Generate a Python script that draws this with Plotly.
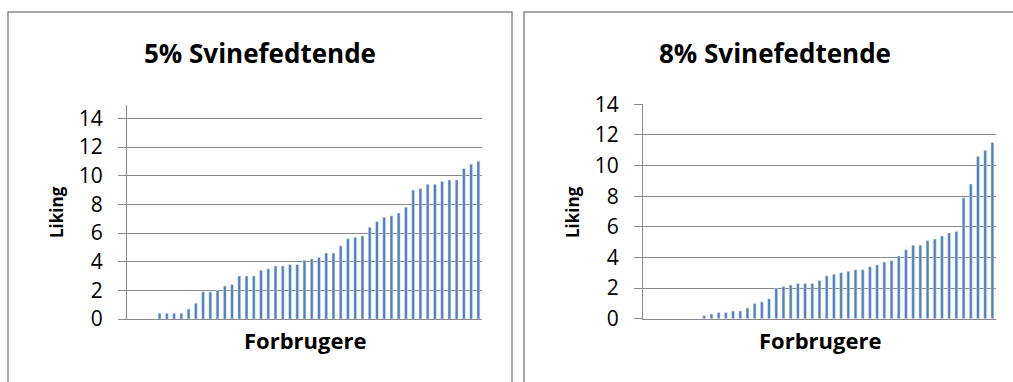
import plotly.graph_objects as go

# Liking scores per consumer, sorted ascending (49 consumers per panel)
consumers = list(range(1, 50))

liking_5pct = [0, 0, 0, 0,
               0.4, 0.4, 0.4, 0.4, 0.7, 1.1, 1.9, 1.9, 2.0, 2.3,
               2.4, 3.0, 3.0, 3.0, 3.4, 3.5, 3.7, 3.7, 3.8, 3.8,
               4.1, 4.2, 4.3, 4.6, 4.6, 5.1, 5.6, 5.7, 5.8, 6.4,
               6.8, 7.1, 7.2, 7.4, 7.8, 9.0, 9.1, 9.4, 9.4, 9.6,
               9.7, 9.7, 10.5, 10.8, 11.0]

liking_8pct = [0, 0, 0, 0, 0, 0, 0, 0,
               0.2, 0.3, 0.4, 0.4, 0.5, 0.5, 0.7, 1.0, 1.1, 1.3,
               2.0, 2.1, 2.2, 2.3, 2.3, 2.3, 2.5, 2.8, 2.9, 3.0,
               3.1, 3.2, 3.2, 3.4, 3.5, 3.7, 3.8, 4.1, 4.5, 4.8,
               4.8, 5.1, 5.2, 5.4, 5.6, 5.7, 7.9, 8.8, 10.6, 11.0,
               11.5]

titles = ["5% Svinefedtende", "8% Svinefedtende"]
y_title = "Liking"
x_title = "Forbrugere"
y_ticks = [0, 2, 4, 6, 8, 10, 12, 14]

W, H = 1013, 382
FONT = "Open Sans"
BAR = "#4F81BD"
GRID = "#8a8a8a"


def px(x):
    return x / W


def py(y):
    return 1 - y / H


fig = go.Figure()
fig.add_trace(go.Bar(x=consumers, y=liking_5pct, marker_color=BAR,
                     xaxis="x", yaxis="y", showlegend=False))
fig.add_trace(go.Bar(x=consumers, y=liking_8pct, marker_color=BAR,
                     xaxis="x2", yaxis="y2", showlegend=False))

common_x = dict(range=[0.5, 49.5], showticklabels=False, ticks="",
                showgrid=False, zeroline=False, showline=True,
                linecolor=GRID, linewidth=1)
common_y = dict(tickvals=y_ticks, showgrid=True, gridcolor=GRID,
                gridwidth=1, zeroline=False, showline=True,
                linecolor=GRID, linewidth=1, ticks="outside", ticklen=8,
                tickcolor=GRID, tickwidth=1, ticklabelstandoff=11,
                tickfont=dict(family=FONT, size=21, color="black"))

fig.update_layout(
    width=W, height=H,
    margin=dict(l=0, r=0, t=0, b=0, pad=0, autoexpand=False),
    paper_bgcolor="white", plot_bgcolor="white",
    bargap=0.6,
    xaxis=dict(domain=[px(127), px(482)], anchor="y", **common_x),
    yaxis=dict(domain=[py(319), py(105)], range=[0, 14.93], anchor="x",
               **common_y),
    xaxis2=dict(domain=[px(643), px(996)], anchor="y2", **common_x),
    yaxis2=dict(domain=[py(318.7), py(104.3)], range=[0, 14], anchor="x2",
                **common_y),
)

# Chart frames
frame = dict(type="rect", xref="paper", yref="paper",
             line=dict(color=GRID, width=1.5), fillcolor="rgba(0,0,0,0)",
             layer="below")
fig.add_shape(x0=px(8), x1=px(512), y0=py(12), y1=py(400), **frame)
fig.add_shape(x0=px(524), x1=px(1020), y0=py(12), y1=py(400), **frame)

# Titles and axis titles
ann = []
for cx, txt in [(260, titles[0]), (775, titles[1])]:
    ann.append(dict(x=px(cx), y=py(53), text=f"<b>{txt}</b>",
                    font=dict(family=FONT, size=26, color="black")))
for cx, txt in [(304.5, x_title), (819.5, x_title)]:
    ann.append(dict(x=px(cx), y=py(340), text=f"<b>{txt}</b>",
                    font=dict(family=FONT, size=22, color="black")))
for cx, cy in [(56, 212), (572, 212)]:
    ann.append(dict(x=px(cx), y=py(cy), text=f"<b>{y_title}</b>",
                    textangle=-90,
                    font=dict(family=FONT, size=17, color="black")))
for a in ann:
    a.update(xref="paper", yref="paper", showarrow=False,
             xanchor="center", yanchor="middle")
fig.update_layout(annotations=ann)

fig.write_html("out.html")
